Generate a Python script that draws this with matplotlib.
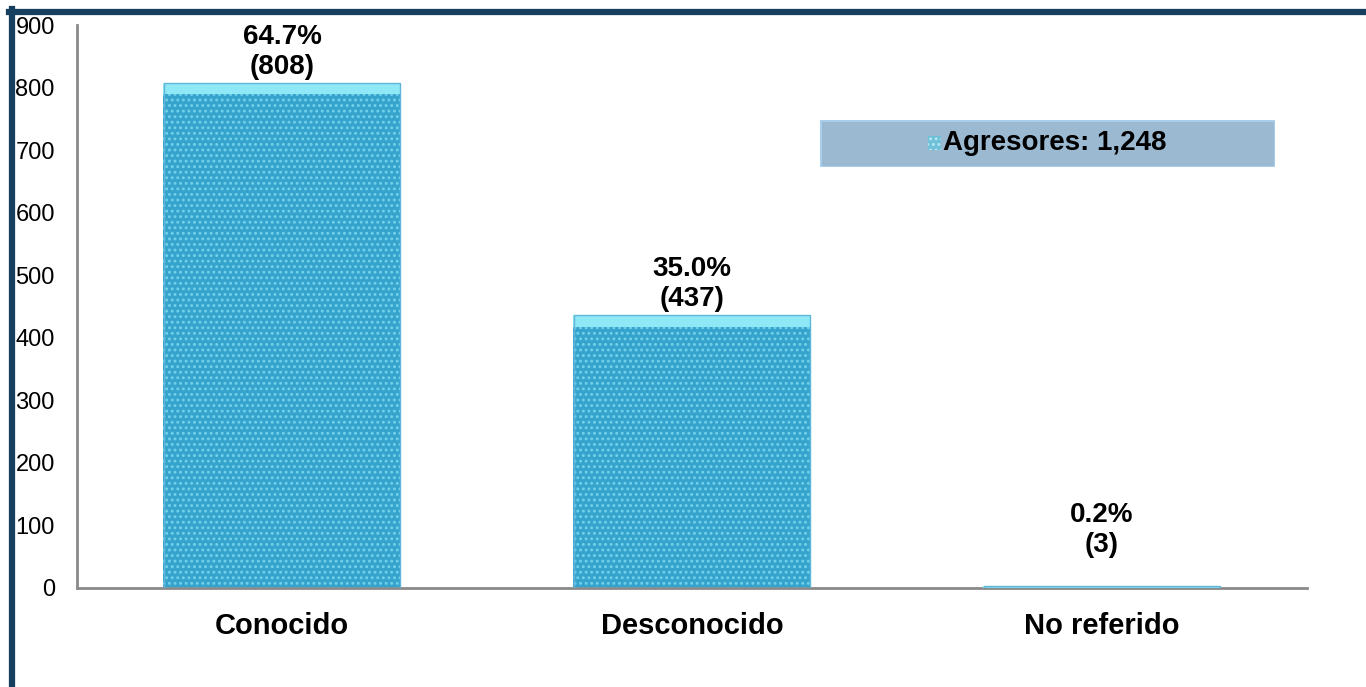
import matplotlib
matplotlib.use("Agg")
import matplotlib.pyplot as plt
from matplotlib.patches import Rectangle
import matplotlib.lines as mlines

categories = ["Conocido", "Desconocido", "No referido"]
values = [808, 437, 3]
percent_labels = ["64.7%", "35.0%", "0.2%"]
legend_label = "Agresores: 1,248"
yticks = [0, 100, 200, 300, 400, 500, 600, 700, 800, 900]

plt.rcParams['font.family'] = ['Liberation Sans', 'DejaVu Sans']
plt.rcParams['hatch.linewidth'] = 1.3

W, H = 1366, 687
fig = plt.figure(figsize=(W / 100, H / 100), dpi=100)
fig.patch.set_facecolor("white")

# axes in pixel coords: left 77, right 1307, bottom 588, top 25
ax = fig.add_axes([77 / W, 1 - 588 / H, (1307 - 77) / W, (588 - 25) / H])
ax.set_xlim(-0.5, 2.5)
ax.set_ylim(0, 900)

x = list(range(len(categories)))
bar_w = 0.58
ax.bar(x, values, width=bar_w, color="#36a3cd", edgecolor="#72d2ec",
       linewidth=0, hatch="...", zorder=2)
# light bevel on the top of each bar
bevel = 19
for xi, v in zip(x, values):
    h = min(bevel, v)
    ax.bar(xi, h, bottom=v - h, width=bar_w, color="#8fe8f6", linewidth=0, zorder=3)
    ax.bar(xi, v, width=bar_w * 0.99, fill=False, edgecolor="#5fb6d6",
           linewidth=1.0, zorder=4)

for xi, v, p in zip(x, values, percent_labels):
    ax.text(xi, max(v + 4, 48), f"{p}\n({v})", ha="center", va="bottom",
            fontsize=20, fontweight="bold", color="black", linespacing=1.2)

ax.set_yticks(yticks)
ax.set_yticklabels([str(t) for t in yticks], fontsize=17)
ax.tick_params(axis="y", length=0, pad=16)
ax.set_xticks(x)
ax.set_xticklabels(categories, fontsize=21, fontweight="bold")
ax.tick_params(axis="x", length=0, pad=17)

for s in ["top", "right"]:
    ax.spines[s].set_visible(False)
for s in ["left", "bottom"]:
    ax.spines[s].set_color("#8a8a8a")
    ax.spines[s].set_linewidth(2)

# legend box
leg_ax = fig.add_axes([820 / W, 1 - 167 / H, (1275 - 820) / W, (167 - 120) / H])
leg_ax.set_xlim(0, 1)
leg_ax.set_ylim(0, 1)
leg_ax.axis("off")
leg_ax.add_patch(Rectangle((0, 0), 1, 1, facecolor="#9bb9d1", edgecolor="#a9d0ee",
                           linewidth=2, transform=leg_ax.transAxes))
leg_ax.add_patch(Rectangle((0.237, 0.36), 0.028, 0.3, facecolor="#6fc0d8",
                           edgecolor="#b8e8f2", hatch="...", linewidth=0))
leg_ax.text(0.27, 0.5, legend_label, ha="left", va="center", fontsize=20,
            fontweight="bold", color="black")

# frame lines (top and left)
fig.add_artist(mlines.Line2D([9 / W, 1], [1 - 11.5 / H, 1 - 11.5 / H],
                             color="#173f5f", linewidth=4.5, transform=fig.transFigure))
fig.add_artist(mlines.Line2D([11.5 / W, 11.5 / W], [0, 1 - 9 / H],
                             color="#173f5f", linewidth=4.5, transform=fig.transFigure))

fig.savefig("out.png", dpi=100, facecolor="white")
